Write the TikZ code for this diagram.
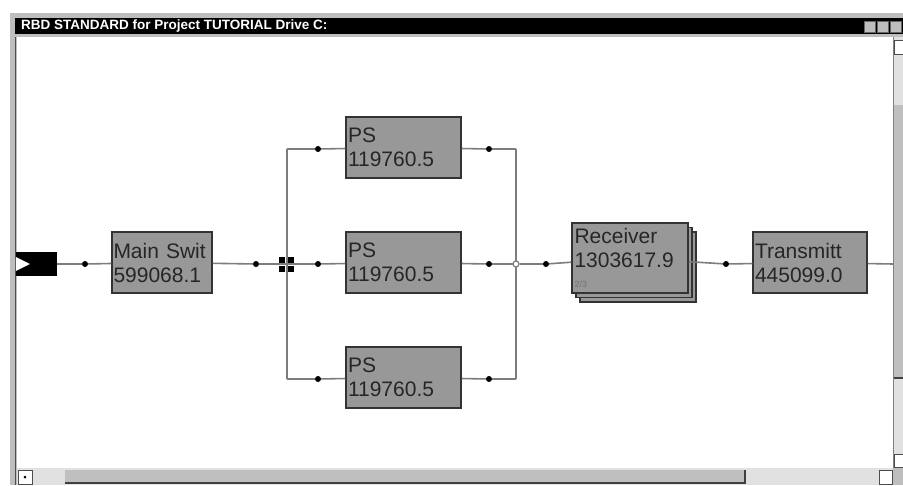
\documentclass[tikz,border=0pt]{standalone}
\usepackage{fontspec}
\setmainfont{Liberation Sans}
\usetikzlibrary{arrows.meta,positioning,calc,shadows}
\definecolor{blockgray}{RGB}{152,152,152}
\definecolor{framegray}{RGB}{190,190,190}
\definecolor{trackgray}{RGB}{225,225,225}
\definecolor{wiregray}{RGB}{125,125,125}
\tikzset{
  block/.style={draw=black!80, line width=1.5pt, fill=blockgray, minimum width=115pt, minimum height=61pt,
    text width=111pt, inner xsep=2pt, align=left, font=\fontsize{21}{24}\selectfont, text=black!85},
  jdot/.style={fill=black, circle, inner sep=0pt, minimum size=6pt},
  wire/.style={wiregray, line width=1.6pt},
}

\begin{document}
\begin{tikzpicture}[x=1pt,y=-1pt]
\useasboundingbox (0,0) rectangle (903,485);
% window frame
\fill[white] (0,0) rectangle (903,485);
\fill[framegray] (10,13) rectangle (903,485);
\fill[black] (15,18) rectangle (903,34);
\fill[white] (17,37) rectangle (893,468);
\draw[black!70, line width=1.2pt] (15.5,37) -- (15.5,485);
\node[anchor=west, text=white, inner sep=0pt, font=\bfseries\fontsize{13.5}{14}\selectfont] (title) at (21,26) {RBD STANDARD for Project TUTORIAL Drive C:};
\foreach \bx in {864,877,890}
  \draw[fill=framegray, draw=black!60] (\bx,21) rectangle ++(11,11);
% scrollbars
\fill[trackgray] (17,468) rectangle (893,485);
\draw[fill=white, draw=black!70] (18,470) rectangle (32,484);
\fill[black] (25,477) circle (1.5pt);
\fill[black!25] (65,470) rectangle (745,482);
\draw[black!75, line width=1.5pt] (65,483) -- (745,483) -- (745,470);
\draw[fill=white, draw=black!70] (879,470) rectangle (892,484);
\fill[trackgray] (893,37) rectangle (903,468);
\draw[black!50] (893.5,37) -- (893.5,468);
\draw[fill=white, draw=black!70] (894,40) rectangle (903,54);
\fill[black!25] (894,105) rectangle (903,378);
\draw[black!75, line width=1.5pt] (894,378) -- (903,378);
\draw[fill=white, draw=black!70] (894,454) rectangle (903,467);

% start flag
\node[fill=black, minimum width=41pt, minimum height=24pt, inner sep=0pt] (start) at (36.5,264) {};
\fill[white] (start.west) ++(0,-7) -- ++(14,7) -- ++(-14,7) -- cycle;
% blocks
\node[block, minimum width=100pt, text width=97pt, inner xsep=1.5pt] (main) at (162,262.5) {Main Swit\\599068.1};
\foreach \i/\y in {1/147.5,2/262.5,3/377.5}
  \node[block] (ps\i) at (403.5,\y) {PS\\119760.5};
\node[block, minimum width=116pt, minimum height=70pt,
  double copy shadow={shadow xshift=4pt, shadow yshift=-4.5pt, draw=black!80, fill=blockgray}]
  (rec) at (630,258) {Receiver\\1303617.9\\[-4pt]{\fontsize{9}{9}\selectfont\color{black!55}2/3}};
\node[block, minimum width=114pt, text width=110pt] (trans) at (810,262.5) {Transmitt\\445099.0};

% junction dots
\node[jdot] (da) at (85,264) {};
\node[jdot] (db) at (256,264) {};
\foreach \i/\y in {1/149,2/264,3/379} {
  \node[jdot] (in\i) at (318,\y) {};
  \node[jdot] (out\i) at (489,\y) {};
}
\node[jdot] (dc) at (546,264) {};
\node[jdot] (dd) at (726,264) {};
\coordinate (lt) at (287,149);
\coordinate (lb) at (287,379);
\coordinate (rt) at (516,149);
\coordinate (rb) at (516,379);
\coordinate (ende) at (893,264);

% wires
\draw[wire] (start) -- (da) -- (main) -- (db) -- (287,264);
\draw[wire] (lt) -- (lb);
\draw[wire] (rt) -- (rb);
\draw[wire] (lt) -- (in1) -- (ps1) -- (out1) -- (rt);
\draw[wire] (287,264) -- (in2) -- (ps2) -- (out2) -- (516,264);
\draw[wire] (lb) -- (in3) -- (ps3) -- (out3) -- (rb);
\node[circle, draw=wiregray, line width=1.2pt, fill=white, inner sep=0pt, minimum size=6pt] (join) at (516,264) {};
\draw[wire] (join) -- (dc) -- (rec);
\draw[wire] (rec) -- (dd) -- (trans) -- (ende);
% splitter
\node[inner sep=0pt, minimum size=17pt] (split) at (286.5,264) {};
\foreach \sx/\sy in {-1/-1,1/-1,-1/1,1/1}
  \fill[black] ($(split)+(\sx*4.5,\sy*4.5)$) +(-3,-3) rectangle +(3,3);
\end{tikzpicture}
\end{document}
